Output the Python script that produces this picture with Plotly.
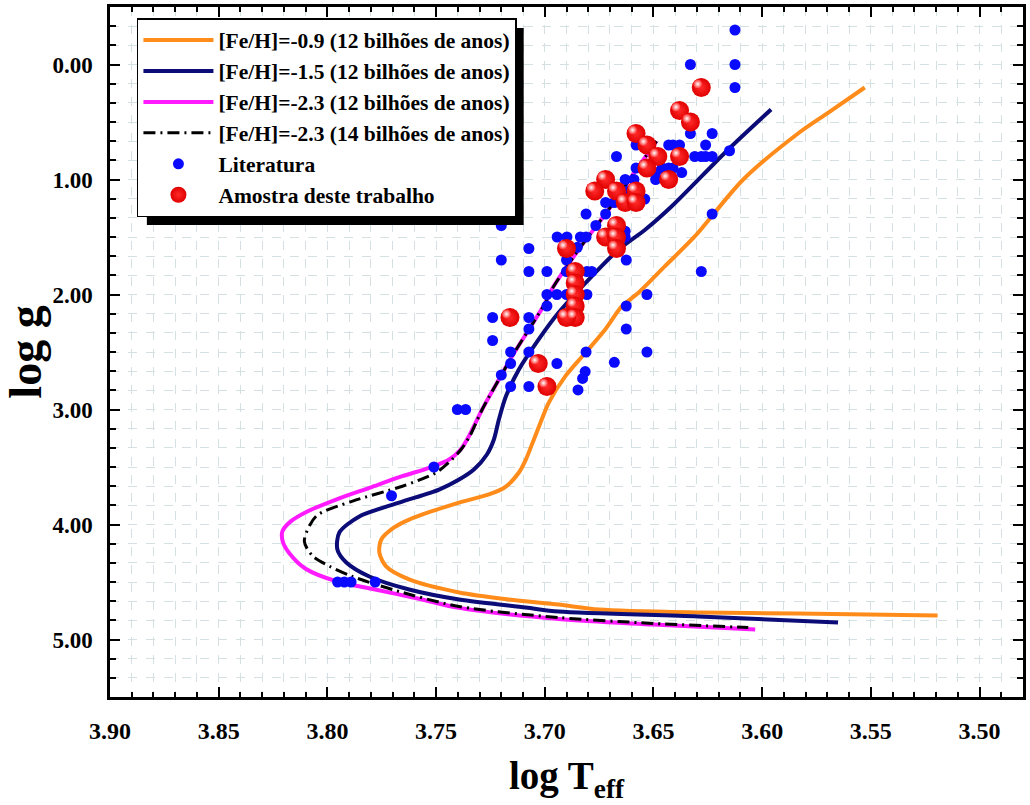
import plotly.graph_objects as go

# Isochrone tracks (log Teff, log g)
iso_09_teff = [3.5193, 3.5835, 3.6290, 3.6750, 3.6936, 3.7165, 3.7394, 3.7624, 3.7730, 3.7761,
               3.7752, 3.7693, 3.7624, 3.7394, 3.7257, 3.7179, 3.7119, 3.7087, 3.7050, 3.7014,
               3.6982, 3.6905, 3.6813, 3.6722, 3.6645, 3.6569, 3.6447, 3.6309, 3.6087,
               3.5835, 3.5697, 3.5528]
iso_09_logg = [4.791, 4.774, 4.765, 4.739, 4.696, 4.652, 4.591, 4.478, 4.365, 4.243,
               4.130, 4.026, 3.957, 3.809, 3.739, 3.670, 3.548, 3.435, 3.260, 3.087,
               2.942, 2.710, 2.507, 2.304, 2.102, 1.985, 1.754, 1.493, 1.000,
               0.600, 0.420, 0.200]

iso_15_teff = [3.5959, 3.6156, 3.6417, 3.6537, 3.6660, 3.6798, 3.6936, 3.7028, 3.7119, 3.7179,
               3.7211, 3.7234, 3.7266, 3.7326, 3.7394, 3.7486, 3.7670, 3.7853, 3.7945, 3.7954,
               3.7913, 3.7807, 3.7624, 3.7394, 3.7087, 3.6936, 3.6294, 3.5651]
iso_15_logg = [0.391, 0.739, 1.235, 1.435, 1.609, 1.870, 2.157, 2.390, 2.652, 2.887,
               3.087, 3.261, 3.391, 3.522, 3.609, 3.696, 3.809, 3.930, 4.070, 4.217,
               4.330, 4.452, 4.565, 4.652, 4.722, 4.757, 4.800, 4.852]

iso_23_teff = [3.6486, 3.6578, 3.6706, 3.6844, 3.6968, 3.6997, 3.7073, 3.7150, 3.7211, 3.7288,
               3.7349, 3.7387, 3.7440, 3.7532, 3.7655, 3.7807, 3.7960, 3.8090, 3.8170, 3.8207,
               3.8205, 3.8175, 3.8100, 3.7960, 3.7780, 3.7580, 3.7394, 3.6936, 3.6500, 3.6032]
iso_23_logg = [0.667, 0.913, 1.261, 1.609, 1.957, 2.072, 2.304, 2.536, 2.739, 3.000,
               3.232, 3.348, 3.435, 3.507, 3.580, 3.681, 3.783, 3.885, 3.975, 4.060,
               4.150, 4.250, 4.385, 4.493, 4.565, 4.645, 4.725, 4.822, 4.870, 4.913]

iso_23_14_teff = [3.6486, 3.6578, 3.6706, 3.6844, 3.6968, 3.6997, 3.7073, 3.7150, 3.7211, 3.7288,
                  3.7345, 3.7385, 3.7430, 3.7502, 3.7655, 3.7884, 3.8052, 3.8106, 3.8067, 3.7991,
                  3.7885, 3.7702, 3.7394, 3.6936, 3.6500, 3.6064]
iso_23_14_logg = [0.667, 0.913, 1.261, 1.609, 1.957, 2.072, 2.304, 2.536, 2.739, 3.000,
                  3.232, 3.348, 3.440, 3.551, 3.667, 3.797, 3.928, 4.145, 4.275, 4.362,
                  4.452, 4.565, 4.713, 4.809, 4.860, 4.896]

# Literature stars
lit_teff = [3.6125, 3.633, 3.6125, 3.6125, 3.633, 3.623, 3.626, 3.643, 3.641, 3.638,
            3.658, 3.631, 3.628, 3.626, 3.623, 3.615, 3.623, 3.667, 3.658, 3.646,
            3.643, 3.641, 3.649, 3.637, 3.649, 3.663, 3.659, 3.662, 3.654, 3.668,
            3.672, 3.672, 3.681, 3.6765, 3.720, 3.6943, 3.6898, 3.6836, 3.681, 3.663,
            3.663, 3.7073, 3.685, 3.720, 3.690, 3.6625, 3.7073, 3.699, 3.690, 3.6806,
            3.6784, 3.628, 3.699, 3.6944, 3.690, 3.6806, 3.653, 3.699, 3.6625, 3.724,
            3.7073, 3.7073, 3.6625, 3.724, 3.7157, 3.7073, 3.681, 3.653, 3.7157, 3.6944,
            3.668, 3.720, 3.6814, 3.6826, 3.7157, 3.7073, 3.6847, 3.7402, 3.7364, 3.751,
            3.7705, 3.7953, 3.7922, 3.7891, 3.778]
lit_logg = [-0.30, 0.00, 0.00, 0.20, 0.60, 0.60, 0.70, 0.70, 0.70, 0.70,
            0.70, 0.80, 0.80, 0.80, 0.80, 0.75, 1.30, 0.80, 0.90, 0.90,
            0.90, 0.90, 0.94, 0.94, 1.00, 1.00, 1.00, 1.10, 1.17, 1.20,
            1.20, 1.30, 1.30, 1.40, 1.40, 1.50, 1.50, 1.50, 1.50, 1.45,
            1.50, 1.60, 1.59, 1.70, 1.70, 1.70, 1.80, 1.80, 1.80, 1.80,
            1.80, 1.80, 2.00, 2.00, 2.00, 2.00, 2.00, 2.10, 2.10, 2.20,
            2.20, 2.30, 2.30, 2.40, 2.50, 2.50, 2.50, 2.50, 2.60, 2.60,
            2.59, 2.70, 2.67, 2.73, 2.80, 2.80, 2.83, 3.00, 3.00, 3.50,
            3.75, 4.50, 4.50, 4.50, 4.50]

# Stars analysed in this work
amostra_teff = [3.628, 3.638, 3.633, 3.658, 3.653, 3.648, 3.638, 3.653, 3.643, 3.672,
                3.677, 3.667, 3.658, 3.663, 3.658, 3.667, 3.672, 3.667, 3.667, 3.690,
                3.686, 3.686, 3.686, 3.686, 3.686, 3.690, 3.716, 3.703, 3.699]
amostra_logg = [0.20, 0.40, 0.50, 0.60, 0.70, 0.80, 0.80, 0.90, 1.00, 1.00,
                1.10, 1.10, 1.10, 1.20, 1.20, 1.40, 1.50, 1.50, 1.60, 1.60,
                1.80, 1.90, 2.00, 2.10, 2.20, 2.20, 2.20, 2.60, 2.80]

x_ticks = [3.90, 3.85, 3.80, 3.75, 3.70, 3.65, 3.60, 3.55, 3.50]
y_ticks = [0, 1, 2, 3, 4, 5]

FONT = "Liberation Serif"

# specular highlight offset for the shaded sphere markers (data units)
HL_DX, HL_DY = 0.0016, -0.030

fig = go.Figure()

fig.add_trace(go.Scatter(x=iso_09_teff, y=iso_09_logg, mode="lines",
                         line=dict(color="#ff8c1a", width=4, shape="spline", smoothing=0.8),
                         name="[Fe/H]=-0.9 (12 bilhões de anos)"))
fig.add_trace(go.Scatter(x=iso_15_teff, y=iso_15_logg, mode="lines",
                         line=dict(color="#0c0c78", width=4, shape="spline", smoothing=0.8),
                         name="[Fe/H]=-1.5 (12 bilhões de anos)"))
fig.add_trace(go.Scatter(x=iso_23_teff, y=iso_23_logg, mode="lines",
                         line=dict(color="#ff1aff", width=4, shape="spline", smoothing=0.9),
                         name="[Fe/H]=-2.3 (12 bilhões de anos)"))
fig.add_trace(go.Scatter(x=iso_23_14_teff, y=iso_23_14_logg, mode="lines",
                         line=dict(color="black", width=3, dash="12px,5px,2px,5px",
                                   shape="spline", smoothing=0.8),
                         name="[Fe/H]=-2.3 (14 bilhões de anos)"))
fig.add_trace(go.Scatter(x=lit_teff, y=lit_logg, mode="markers",
                         marker=dict(color="#0a0aff", size=11, line=dict(width=0)),
                         name="Literatura"))
fig.add_trace(go.Scatter(x=amostra_teff, y=amostra_logg, mode="markers",
                         marker=dict(color="#e00000", size=19, line=dict(width=0),
                                     gradient=dict(type="radial", color="#ff2a2a")),
                         name="Amostra deste trabalho"))
fig.add_trace(go.Scatter(x=[t + HL_DX for t in amostra_teff],
                         y=[g + HL_DY for g in amostra_logg], mode="markers",
                         marker=dict(color="#ff2a2a", size=9, line=dict(width=0),
                                     gradient=dict(type="radial", color="white")),
                         hoverinfo="skip", showlegend=False))

grid_col = "#d5e0e3"
axis_common = dict(
    showline=True, linecolor="black", linewidth=2.5, mirror="ticks",
    ticks="inside", ticklen=10, tickwidth=2, tickcolor="black",
    showgrid=True, gridcolor=grid_col, griddash="dash", gridwidth=1,
    zeroline=False, ticklabelstandoff=10,
)

fig.update_xaxes(
    range=[3.90, 3.48], tickmode="array", tickvals=x_ticks, tickformat=".2f",
    tickfont=dict(family=FONT, size=24, color="black", weight="bold"),
    minor=dict(dtick=0.01, tick0=3.5, ticks="inside", ticklen=5, tickwidth=1.5,
               tickcolor="black", showgrid=True, gridcolor=grid_col, griddash="dash"),
    title=dict(text="log T<sub>eff</sub>", standoff=20,
               font=dict(family=FONT, size=39, color="black", weight="bold")),
    **axis_common,
)
fig.update_yaxes(
    range=[5.5, -0.5], tickmode="array", tickvals=y_ticks, tickformat=".2f",
    tickfont=dict(family=FONT, size=23, color="black", weight="bold"),
    minor=dict(dtick=1 / 6, tick0=0, ticks="inside", ticklen=6, tickwidth=1.5,
               tickcolor="black", showgrid=True, gridcolor=grid_col, griddash="dash"),
    title=dict(text="log g", standoff=8,
               font=dict(family=FONT, size=46, color="black", weight="bold")),
    **axis_common,
)

# drop shadow behind the legend box
fig.add_shape(type="rect", xref="paper", yref="paper",
              x0=0.0404, x1=0.4531, y0=0.6840, y1=0.9696,
              fillcolor="black", line=dict(width=0), layer="above")

fig.update_layout(
    width=1030, height=805,
    margin=dict(l=110, r=4, t=7, b=108),
    paper_bgcolor="white", plot_bgcolor="white",
    legend=dict(x=0.0295, y=0.984, xanchor="left", yanchor="top",
                bgcolor="white", bordercolor="black", borderwidth=1.5,
                itemwidth=70, tracegroupgap=0,
                font=dict(family=FONT, size=21.5, color="black", weight="bold")),
)

fig.write_html("out.html")
